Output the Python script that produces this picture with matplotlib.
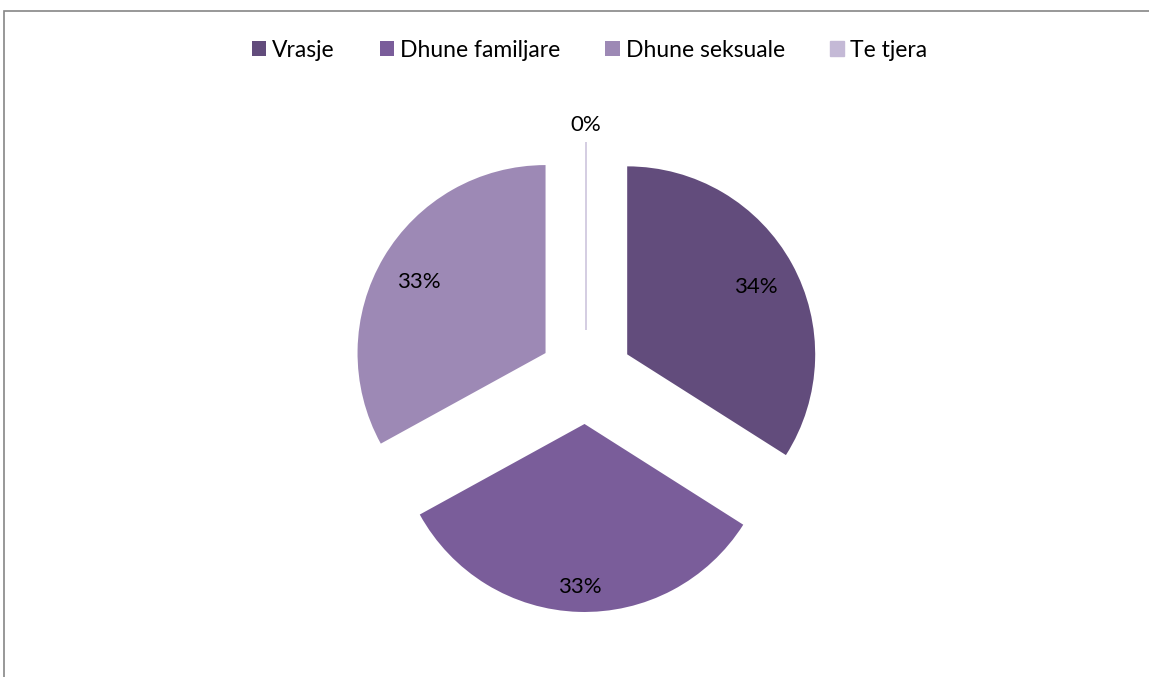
import numpy as np
import matplotlib.pyplot as plt
from matplotlib.patches import Rectangle

plt.rcParams['font.family'] = ['Lato', 'DejaVu Sans']

categories = ['Vrasje', 'Dhune familjare', 'Dhune seksuale', 'Te tjera']
values = [34, 33, 33, 0]
colors = ['#624C7C', '#7A5D9A', '#9D89B5', '#C4B9D6']
label_dist = [0.78, 0.85, 0.78, 1.11]

W, H = 1149, 677
fig = plt.figure(figsize=(W / 100, H / 100), dpi=100)
ax = fig.add_axes([0, 0, 1, 1])

wedges, texts, autotexts = ax.pie(
    values, colors=colors, startangle=90, counterclock=False,
    explode=[0.25] * 4, autopct='%1.0f%%', pctdistance=0.8,
    textprops={'fontsize': 16, 'color': 'black'})

# zero slice shows as a thin line
wedges[-1].set_edgecolor(colors[-1])
wedges[-1].set_linewidth(1)

# move the percent labels along each slice's middle
for w, t, d in zip(wedges, autotexts, label_dist):
    mid = np.deg2rad((w.theta1 + w.theta2) / 2)
    cx0, cy0 = w.center
    t.set_position((cx0 + d * np.cos(mid), cy0 + d * np.sin(mid) - 0.02))

# pie radius of 188 px, centre at (586, 377) from top left
r = 188.0
cx, cy = 586, 377
ax.set_aspect('auto')
ax.set_xlim(-cx / r, (W - cx) / r)
ax.set_ylim(-(H - cy) / r, cy / r)
ax.axis('off')

fig.legend(wedges, categories, loc='center', bbox_to_anchor=(0.513, 0.926),
           ncol=4, frameon=False, fontsize=16.5, handlelength=0.65,
           handleheight=0.65, handletextpad=0.25, columnspacing=1.95)

fig.patches.append(Rectangle((4 / W, -0.01), 1.0, 1 - 11 / H + 0.01,
                             transform=fig.transFigure, fill=False,
                             edgecolor='#868686', linewidth=1.2))

fig.savefig('out.png', dpi=100)
